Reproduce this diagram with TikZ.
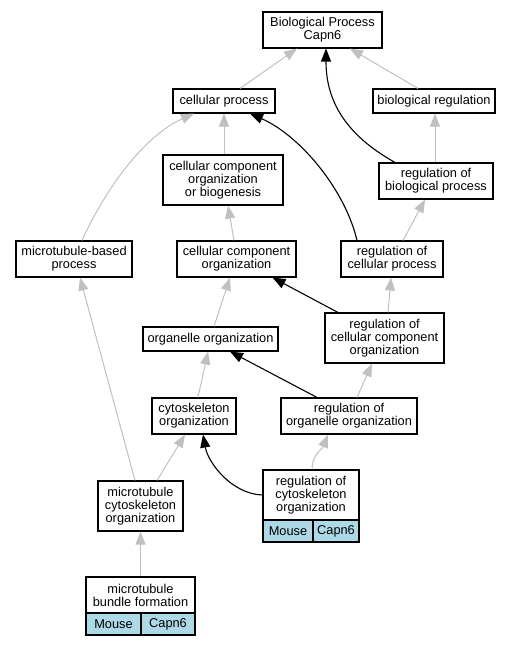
\documentclass[tikz,border=0pt]{standalone}
\usepackage{fontspec}
\setmainfont{Liberation Sans}
\usetikzlibrary{arrows.meta}
\definecolor{isagray}{RGB}{192,192,192}
\definecolor{genefill}{RGB}{173,216,230}
\tikzset{
	term/.style  = {draw, line width=1.1pt, rectangle, align=center, inner sep=0pt,
		font=\fontsize{12.8}{13}\selectfont},
	sz/.style 2 args = {minimum width=#1pt, minimum height=#2pt},
	gene/.style  = {term, fill=genefill}, % species / gene cells
	isa/.style   = {draw=isagray, line width=1pt, -{Triangle[length=13pt,width=10pt]}},
	reg/.style   = {draw=black, line width=1.1pt, -{Triangle[length=13pt,width=10pt]}}
}

\begin{document}
\begin{tikzpicture}[x=1pt, y=-1pt]
	\useasboundingbox (0,0) rectangle (513,645);
	\draw
	node at (322.5,30) [term, sz={119}{36}] (bp) {Biological Process\\Capn6}
	node at (224,101) [term, sz={102}{24}] (cp) {cellular process}
	node at (434,101) [term, sz={122}{24}] (br) {biological regulation}
	node at (223,180) [term, sz={120}{50}] (ccoob) {cellular component\\organization\\or biogenesis}
	node at (436,181) [term, sz={114}{36}] (rbp) {regulation of\\biological process}
	node at (74,259) [term, sz={116}{36}] (mbp) {microtubule-based\\process}
	node at (236.5,259) [term, sz={119}{36}] (cco) {cellular component\\organization}
	node at (392,259) [term, sz={102}{36}] (rcp) {regulation of\\cellular process}
	node at (210.5,339) [term, sz={135}{24}] (oo) {organelle organization}
	node at (384.5,338) [term, sz={119}{50}] (rcco) {regulation of\\cellular component\\organization}
	node at (194,416) [term, sz={84}{36}] (co) {cytoskeleton\\organization}
	node at (349,416) [term, sz={136}{36}] (roo) {regulation of\\organelle organization}
	node at (140.5,506) [term, sz={85}{50}] (mco) {microtubule\\cytoskeleton\\organization}
	node at (311,495) [term, sz={96}{50}] (rco) {regulation of\\cytoskeleton\\organization}
	node at (288,531) [gene, sz={50}{22}] (rcomouse) {Mouse}
	node at (336,531) [gene, sz={46}{22}] (rcocapn) {Capn6}
	node at (140.5,595) [term, sz={109}{36}] (mbf) {microtubule\\bundle formation}
	node at (113.5,624) [gene, sz={55}{22}] (mbfmouse) {Mouse}
	node at (168,624) [gene, sz={54}{22}] (mbfcapn) {Capn6};

	% is_a
	\draw[isa] ([xshift=16pt]cp.north) -- ([xshift=-25.5pt]bp.south);
	\draw[isa] ([xshift=-16pt]br.north) -- ([xshift=27.5pt]bp.south);
	\draw[isa] ([xshift=1pt]ccoob.north) -- (cp.south);
	\draw[isa] ([xshift=8pt]mbp.north) .. controls +(28,-61) and +(-45,20) .. ([xshift=-30pt]cp.south);
	\draw[isa] ([xshift=-2.5pt]cco.north) -- ([xshift=5pt]ccoob.south);
	\draw[isa] ([xshift=-1pt]rbp.north) -- ([xshift=1pt]br.south);
	\draw[isa] ([xshift=11pt]rcp.north) -- ([xshift=-11pt]rbp.south);
	\draw[isa] ([xshift=3.5pt]oo.north) -- ([xshift=-6.5pt]cco.south);
	\draw[isa] ([xshift=3.5pt]rcco.north) -- ([xshift=-1pt]rcp.south);
	\draw[isa] ([xshift=4pt]co.north) -- ([xshift=-2.5pt]oo.south);
	\draw[isa] ([xshift=8pt]roo.north) -- ([xshift=-12.5pt]rcco.south);
	\draw[isa] ([xshift=-5.5pt]mco.north) -- ([xshift=6pt]mbp.south);
	\draw[isa] ([xshift=16.5pt]mco.north) -- ([xshift=-9pt]co.south);
	\draw[isa] ([xshift=1pt]rco.north) .. controls +(0,-15) and +(-6,15) .. ([xshift=-21pt]roo.south);
	\draw[isa] (mbf.north) -- (mco.south);

	% regulates
	\draw[reg] ([xshift=-41pt]rbp.north) .. controls +(-50,-28) and +(0,52) .. ([xshift=3.5pt]bp.south);
	\draw[reg] ([xshift=-35pt]rcp.north) .. controls +(-12,-51) and +(50,22) .. ([xshift=26pt]cp.south);
	\draw[reg] ([xshift=-46.5pt]rcco.north) -- ([xshift=36pt]cco.south);
	\draw[reg] ([xshift=-32pt]roo.north) -- ([xshift=19.5pt]oo.south);
	\draw[reg] (rco.west) .. controls +(-31,-1) and +(5,28) .. ([xshift=9pt]co.south);
\end{tikzpicture}
\end{document}
